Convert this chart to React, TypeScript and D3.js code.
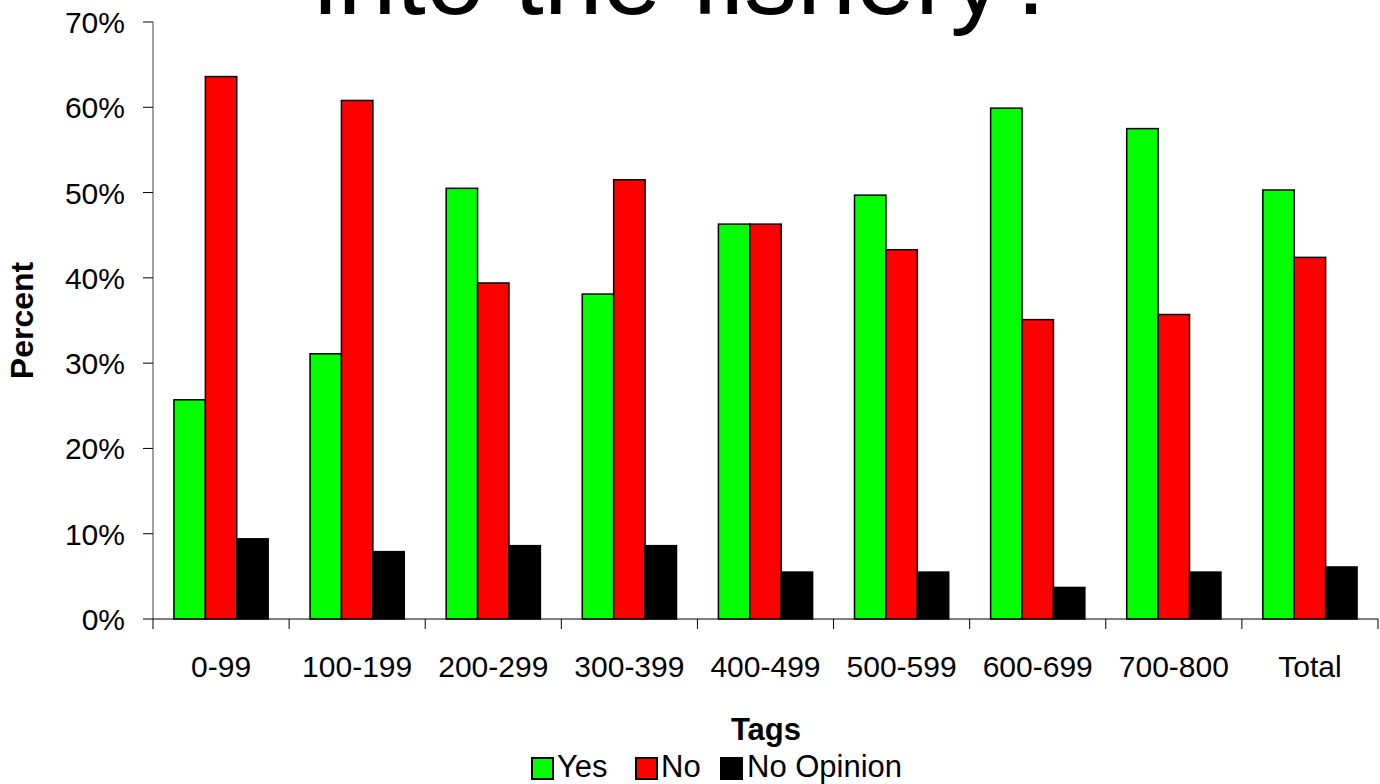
import React from 'react';
import * as d3 from 'd3';

const categories = ['0-99', '100-199', '200-299', '300-399', '400-499', '500-599', '600-699', '700-800', 'Total'];
const seriesNames = ['Yes', 'No', 'No Opinion'];
const yesValues = [25.7, 31.1, 50.5, 38.1, 46.3, 49.7, 59.9, 57.5, 50.3];
const noValues = [63.6, 60.8, 39.4, 51.5, 46.3, 43.3, 35.1, 35.7, 42.4];
const noOpinionValues = [9.4, 7.9, 8.6, 8.6, 5.5, 5.5, 3.7, 5.5, 6.1];
const yTicks = [0, 10, 20, 30, 40, 50, 60, 70];
const colors = ['#00FF00', '#FF0000', '#000000'];

const width = 1380;
const height = 784;
const font = 'Arial, "Liberation Sans", sans-serif';

export default function App() {
  const series = [yesValues, noValues, noOpinionValues];

  const x0 = d3.scaleBand<string>().domain(categories).range([153, 1378]).padding(0);
  const x1 = d3.scaleBand<string>()
    .domain(seriesNames)
    .range([0, x0.bandwidth()])
    .paddingInner(0)
    .paddingOuter(0.667);
  const y = d3.scaleLinear().domain([0, 70]).range([619, 22]);

  const plotLeft = x0.range()[0];
  const plotRight = x0.range()[1];
  const bottom = y(0);

  return (
    <svg
      width={width}
      height={height}
      style={{ position: 'absolute', left: 0, top: 0, background: '#fff' }}
      fontFamily={font}
    >
      {/* only the last line of the title is inside the frame */}
      <text x={688} y={14} textAnchor="middle" fontSize={106} fill="#000">
        into the fishery?
      </text>

      {/* bars */}
      {categories.map((c, i) => (
        <g key={c} transform={`translate(${x0(c)},0)`}>
          {seriesNames.map((s, j) => (
            <rect
              key={s}
              x={x1(s)}
              y={y(series[j][i])}
              width={x1.bandwidth()}
              height={bottom - y(series[j][i])}
              fill={colors[j]}
              stroke="#000"
              strokeWidth={1.5}
            />
          ))}
        </g>
      ))}

      {/* y axis */}
      <line x1={plotLeft} x2={plotLeft} y1={y(70)} y2={bottom} stroke="#444" />
      {yTicks.map(t => (
        <g key={t}>
          <line x1={plotLeft - 10} x2={plotLeft} y1={y(t)} y2={y(t)} stroke="#000" />
          <text x={125} y={y(t) + 11} textAnchor="end" fontSize={30} fill="#000">
            {t}%
          </text>
        </g>
      ))}

      {/* x axis */}
      <line x1={plotLeft} x2={plotRight} y1={bottom} y2={bottom} stroke="#000" />
      {[...categories.map(c => x0(c) as number), plotRight].map((tx, i) => (
        <line key={i} x1={tx} x2={tx} y1={bottom} y2={bottom + 10} stroke="#000" />
      ))}
      {categories.map(c => (
        <text
          key={c}
          x={(x0(c) as number) + x0.bandwidth() / 2}
          y={677}
          textAnchor="middle"
          fontSize={30}
          fill="#000"
        >
          {c}
        </text>
      ))}

      <text x={766} y={740} textAnchor="middle" fontSize={31} fontWeight="bold" fill="#000">
        Tags
      </text>
      <text
        transform={`translate(33,${(y(70) + bottom) / 2}) rotate(-90)`}
        textAnchor="middle"
        fontSize={32}
        fontWeight="bold"
        fill="#000"
      >
        Percent
      </text>

      {/* legend */}
      {[
        { name: seriesNames[0], box: 532, label: 557 },
        { name: seriesNames[1], box: 636, label: 661 },
        { name: seriesNames[2], box: 721, label: 747 },
      ].map((d, i) => (
        <g key={d.name}>
          <rect x={d.box} y={758} width={21} height={21} fill={colors[i]} stroke="#000" strokeWidth={2} />
          <text x={d.label} y={777} fontSize={31} fill="#000">
            {d.name}
          </text>
        </g>
      ))}
    </svg>
  );
}
